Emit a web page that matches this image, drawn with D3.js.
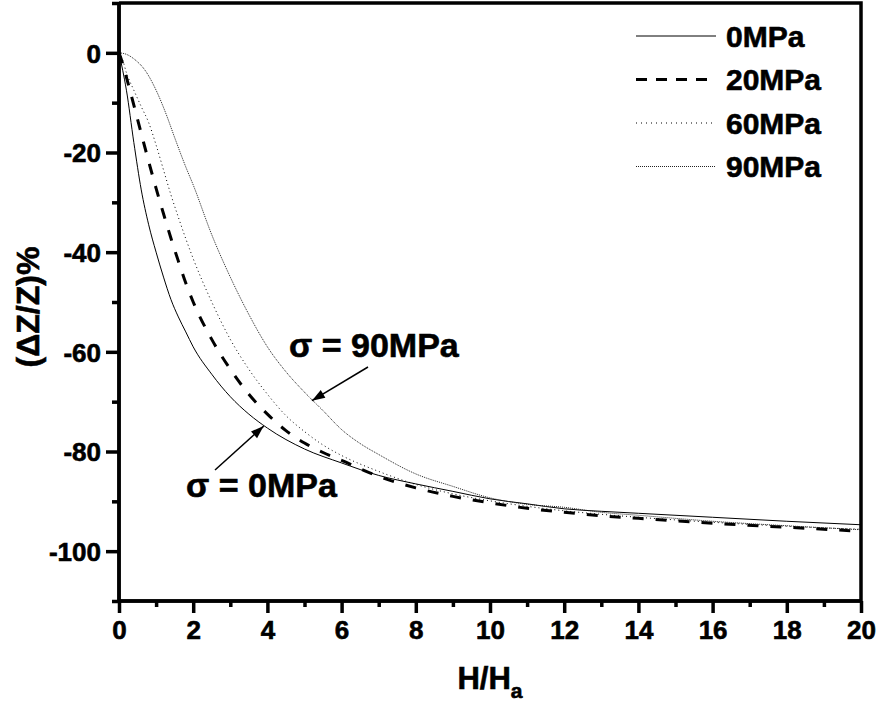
<!DOCTYPE html>
<html>
<head>
<meta charset="utf-8">
<script src="https://cdn.jsdelivr.net/npm/d3@7.9.0/dist/d3.min.js"></script>
<style>
  body { margin: 0; background: #fff; }
  svg text { font-family: Arial, "Liberation Sans", sans-serif; font-weight: bold; fill: #000; }
</style>
</head>
<body>
<svg id="chart" width="881" height="702"></svg>
<script>
// H/Ha values and (dZ/Z)%
const x0 = [0,0.1,0.2,0.4,0.6,0.8,1.0,1.2,1.4,1.6,1.8,2.0,2.5,3,3.5,4,5,6,7,8,9,10,11,12,13,14,16,18,20];
const y0 = [0,-3.5,-7.5,-18,-27.5,-34.5,-40,-45,-49.5,-53,-56,-59,-64.5,-69,-72.5,-75.3,-79.5,-82.3,-84.8,-86.5,-88,-89.5,-90.5,-91.5,-92,-92.4,-93.2,-94,-94.7];

const x20 = [0,0.1,0.25,0.4,0.6,0.8,1.0,1.2,1.4,1.6,1.8,2.0,2.5,3,3.5,4,4.5,5,5.5,6,7,8,9,10,11,12,13,14,16,18,20];
const y20 = [0,-2.2,-6.3,-10.5,-16.2,-21.8,-27.2,-32.3,-37.2,-41.8,-46.2,-50,-57.5,-63.5,-68.5,-72.5,-75.8,-78.3,-80.2,-81.8,-85,-87.3,-89,-90.3,-91.4,-92.2,-92.9,-93.4,-94.4,-95.2,-96];

const x60 = [0,0.1,0.2,0.4,0.6,0.8,1.0,1.2,1.4,1.6,1.8,2.0,2.5,3,3.5,4,4.5,5,5.5,6,7,8,9,10,11,12,13,14,16,18,20];
const y60 = [0,-1.5,-4,-7.5,-10.8,-14,-18.5,-23.5,-28.5,-33,-37.3,-41.3,-50,-57.5,-63.5,-68.5,-72.8,-76,-78.7,-80.8,-84,-86.6,-88.5,-89.9,-91,-91.9,-92.6,-93.2,-94.2,-95,-95.6];

const x90 = [0,0.2,0.4,0.73,1.0,1.26,1.5,1.8,2.0,2.5,3,3.5,4,4.5,5,5.5,6,6.5,7,8,9,10,11,12,13,14,16,18,20];
const y90 = [0,-0.3,-1.2,-3.8,-7.5,-12.1,-17,-22.9,-26.5,-36.5,-45,-52.5,-59,-64,-68.1,-71.8,-75.6,-78.4,-80.6,-84.5,-87,-89.3,-90.6,-91.2,-92.2,-92.8,-94,-94.9,-95.7];

const seriesNames = ['0MPa', '20MPa', '60MPa', '90MPa'];
const xTicks = d3.range(0, 21, 2);
const yTicks = [0, -20, -40, -60, -80, -100];

const series = [
  {name: seriesNames[0], xs: x0, ys: y0, width: 1, dash: null, color: '#000'},
  {name: seriesNames[1], xs: x20, ys: y20, width: 3, dash: '11,12', color: '#000'},
  {name: seriesNames[2], xs: x60, ys: y60, width: 1, dash: '1,3', color: '#000'},
  {name: seriesNames[3], xs: x90, ys: y90, width: 1, dash: '1,1', color: '#222'}
];

const svg = d3.select('#chart');
const pLeft = 119, pRight = 861, pTop = 3, pBottom = 601;
const FONT = 'Arial, "Liberation Sans", sans-serif';

const x = d3.scaleLinear().domain([0, 20]).range([pLeft, pRight]);
const y = d3.scaleLinear().domain([-110, 10]).range([pBottom, pTop]);

// frame (top and right)
svg.append('path')
  .attr('d', `M${pLeft},${pTop}H${pRight}V${pBottom}`)
  .attr('fill', 'none').attr('stroke', '#000').attr('stroke-width', 3.5);

// curves
const line = d3.line().x(d => x(d[0])).y(d => y(d[1])).curve(d3.curveMonotoneX);
series.forEach(s => {
  svg.append('path')
    .datum(s.xs.map((v, i) => [v, s.ys[i]]))
    .attr('fill', 'none')
    .attr('stroke', s.color)
    .attr('stroke-width', s.width)
    .attr('stroke-dasharray', s.dash)
    .attr('d', line);
});

// axes
const xAxis = svg.append('g').attr('class', 'xax').attr('transform', `translate(0,${pBottom})`)
  .call(d3.axisBottom(x).tickValues(xTicks).tickSize(12).tickPadding(8).tickFormat(d => String(d)));
svg.append('g').attr('class', 'xax').attr('transform', `translate(0,${pBottom})`)
  .call(d3.axisBottom(x).tickValues(d3.range(1, 20, 2)).tickSize(6).tickFormat(''));
const yAxis = svg.append('g').attr('class', 'yax').attr('transform', `translate(${pLeft},0)`)
  .call(d3.axisLeft(y).tickValues(yTicks).tickSize(13).tickPadding(5).tickFormat(d => String(d)));
svg.append('g').attr('class', 'yax').attr('transform', `translate(${pLeft},0)`)
  .call(d3.axisLeft(y).tickValues([10, -10, -30, -50, -70, -90, -110]).tickSize(7).tickFormat(''));

svg.selectAll('.xax, .yax')
  .attr('font-size', 26).attr('font-family', FONT).attr('font-weight', 'bold');
svg.selectAll('.xax .domain').attr('stroke-width', 3.5).attr('d', `M${pLeft},0H${pRight}`);
svg.selectAll('.yax .domain').attr('stroke-width', 3.5).attr('d', `M0,${pTop}V${pBottom}`);
svg.selectAll('.tick line').attr('stroke-width', 3.5);
svg.selectAll('.tick text').attr('font-size', 26).attr('font-weight', 'bold')
  .style('stroke', '#000').style('stroke-width', 0.6);
yAxis.selectAll('.tick text').attr('dy', '0.36em');

// axis titles
svg.append('text')
  .attr('transform', 'translate(39,307) rotate(-90)')
  .attr('text-anchor', 'middle')
  .style('font-size', '32px').style('stroke', '#000').style('stroke-width', 0.6)
  .text('(\u0394Z/Z)%');

const xt = svg.append('text')
  .attr('x', 490).attr('y', 689)
  .attr('text-anchor', 'middle')
  .style('font-size', '31px').style('stroke', '#000').style('stroke-width', 0.6);
xt.append('tspan').text('H/H');
xt.append('tspan').attr('dy', 9).style('font-size', '21px').text('a');

// legend
const legend = svg.append('g');
series.forEach((s, i) => {
  const ly = 36 + i * 43.5;
  legend.append('line')
    .attr('x1', 636).attr('x2', 716).attr('y1', ly).attr('y2', ly)
    .attr('stroke', s.color)
    .attr('stroke-width', s.width)
    .attr('stroke-dasharray', i === 1 ? '11,9' : i === 2 ? '1,4' : s.dash);
  legend.append('text')
    .attr('x', 726).attr('y', ly).attr('dy', '0.36em')
    .style('font-size', '30px').style('stroke', '#000').style('stroke-width', 0.6)
    .text(s.name);
});

// annotations
function arrow(x1, y1, x2, y2) {
  svg.append('line')
    .attr('x1', x1).attr('y1', y1).attr('x2', x2).attr('y2', y2)
    .attr('stroke', '#000').attr('stroke-width', 1.5);
  const a = Math.atan2(y2 - y1, x2 - x1);
  const len = 13, w = 4.5;
  const bx = x2 - len * Math.cos(a), by = y2 - len * Math.sin(a);
  svg.append('path')
    .attr('d', `M${x2},${y2}L${bx + w * Math.sin(a)},${by - w * Math.cos(a)}L${bx - w * Math.sin(a)},${by + w * Math.cos(a)}Z`)
    .attr('fill', '#000');
}
svg.append('text').attr('x', 289).attr('y', 357)
  .style('font-size', '34px').style('stroke', '#000').style('stroke-width', 0.6).text('\u03C3 = 90MPa');
arrow(368, 367, x(5.2), y(-69.6) + 1);
svg.append('text').attr('x', 186).attr('y', 497)
  .style('font-size', '34px').style('stroke', '#000').style('stroke-width', 0.6).text('\u03C3 = 0MPa');
arrow(215, 470, x(3.9), y(-74.7) + 1);
</script>
</body>
</html>
